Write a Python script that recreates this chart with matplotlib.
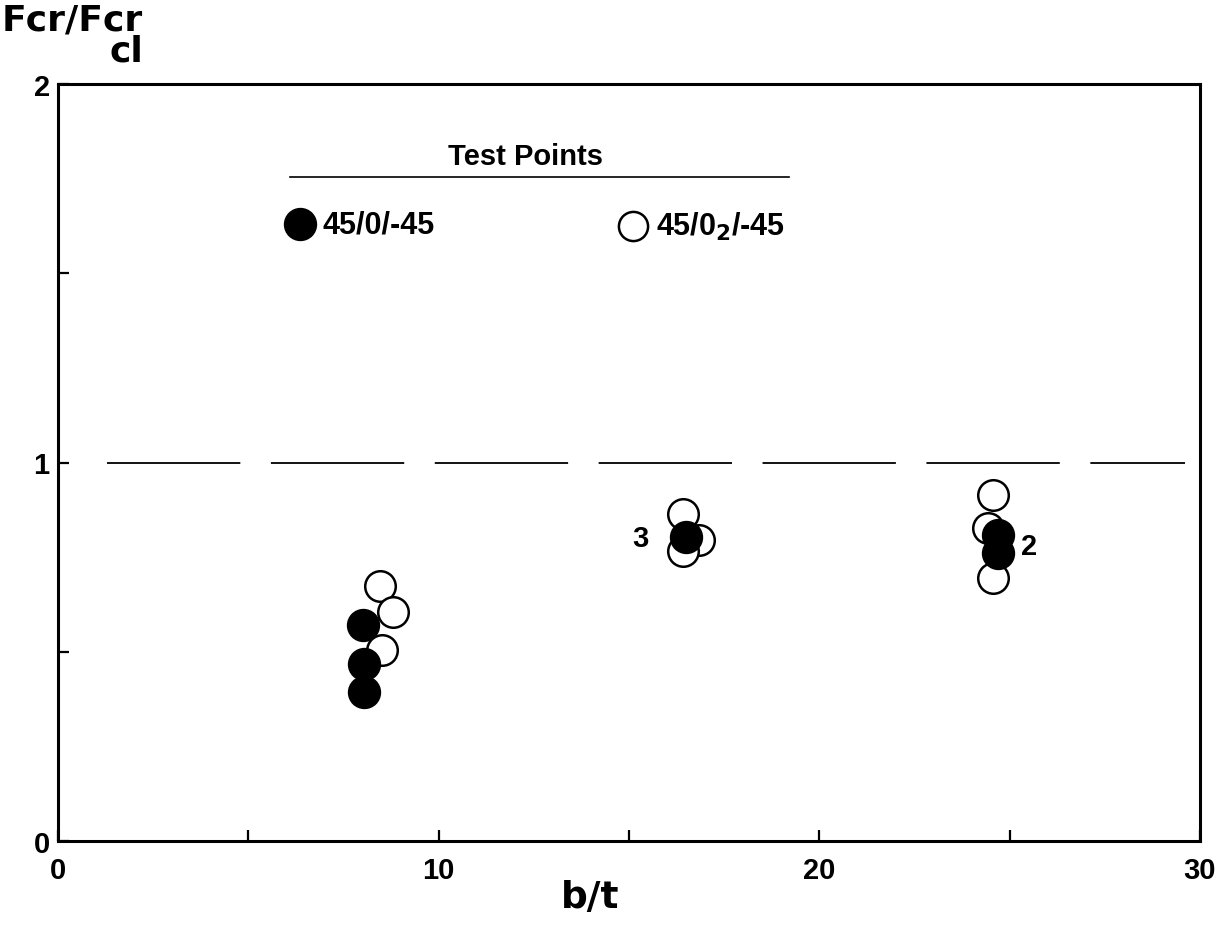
import matplotlib
matplotlib.use("Agg")
import matplotlib.pyplot as plt

# ---- data ----
filled_x = [8.0, 8.05, 8.05, 16.5, 24.69, 24.69]
filled_y = [0.57, 0.467, 0.393, 0.802, 0.809, 0.761]
open_x = [8.45, 8.8, 8.5, 16.43, 16.84, 16.43, 24.56, 24.43, 24.56]
open_y = [0.674, 0.606, 0.505, 0.865, 0.794, 0.765, 0.914, 0.827, 0.695]
ref_line_y = 1.0
ref_line_x = [1.3, 29.6]
x_ticks = [0, 5, 10, 15, 20, 25, 30]
x_tick_labels = ["0", "", "10", "", "20", "", "30"]
y_ticks = [0, 0.5, 1, 1.5, 2]
y_tick_labels = ["0", "", "1", "", "2"]
cluster_labels = ["3", "2"]
cluster_label_x = [15.3, 25.5]
cluster_label_y = [0.80, 0.78]
legend_title = "Test Points"
series_names = ["45/0/-45", "45/0$_2$/-45"]
y_axis_label = "Fcr/Fcr\ncl"
x_axis_label = "b/t"

plt.rcParams["lines.scale_dashes"] = False
plt.rcParams["mathtext.default"] = "bf"
W, H = 1215, 928
fig = plt.figure(figsize=(W / 100, H / 100), dpi=100)
ax = fig.add_axes([58 / W, 1 - 842 / H, (1200 - 58) / W, (842 - 85) / H])
ax.set_xlim(0, 30)
ax.set_ylim(0, 2)

for s in ax.spines.values():
    s.set_linewidth(2.2)
    s.set_color("black")

tick_font = dict(family="Liberation Sans", weight="bold", size=21)
ax.set_xticks(x_ticks)
ax.set_xticklabels(x_tick_labels, **tick_font)
ax.set_yticks(y_ticks)
ax.set_yticklabels(y_tick_labels, **tick_font)
ax.tick_params(axis="both", direction="in", length=8, width=1.6, color="black")
ax.tick_params(axis="x", pad=11)
ax.tick_params(axis="y", pad=6)

# dashed reference line
ax.plot(ref_line_x, [ref_line_y, ref_line_y], color="black", lw=1.3,
        dashes=(96, 22))

msize = 22
ax.plot(open_x, open_y, "o", ms=msize, mfc="white", mec="black", mew=1.8,
        linestyle="none", zorder=3)
ax.plot(filled_x, filled_y, "o", ms=msize + 1, mfc="black", mec="black",
        mew=1.0, linestyle="none", zorder=4)

for t, x, y in zip(cluster_labels, cluster_label_x, cluster_label_y):
    ax.text(x, y, t, ha="center", va="center", **tick_font)

# legend block
ax.text(12.27, 1.81, legend_title, ha="center", va="center",
        family="Liberation Sans", weight="bold", size=21)
ax.plot([6.1, 19.2], [1.755, 1.755], color="black", lw=1.2)
ax.plot([6.37], [1.63], "o", ms=msize + 1, mfc="black", mec="black")
ax.text(6.95, 1.63, series_names[0], ha="left", va="center",
        family="Liberation Sans", weight="bold", size=22)
ax.plot([15.1], [1.625], "o", ms=msize - 1, mfc="white", mec="black", mew=1.8)
ax.text(15.7, 1.625, series_names[1], ha="left", va="center",
        family="Liberation Sans", weight="bold", size=22)

# axis labels
fig.text(590 / W, 1 - 898 / H, x_axis_label, ha="center", va="center",
         family="DejaVu Sans", weight="bold", size=27)
fig.text(2 / W, 1 - 3 / H, y_axis_label, ha="left", va="top",
         multialignment="right", linespacing=0.9,
         family="DejaVu Sans", weight="bold", size=26)

fig.savefig("out.png", dpi=100)
